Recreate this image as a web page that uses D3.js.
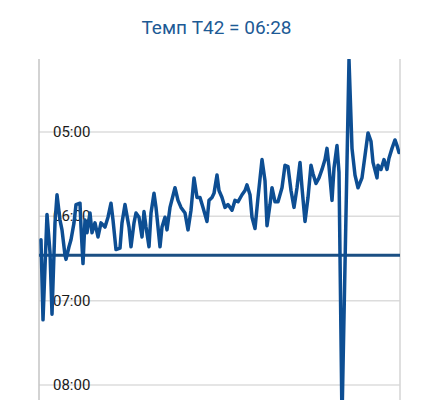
<!DOCTYPE html>
<html><head><meta charset="utf-8">
<script src="https://cdn.jsdelivr.net/npm/d3@7"></script>
<style>html,body{margin:0;padding:0;background:#fff;}svg{display:block;}</style>
</head><body><svg id="c" width="433" height="400"></svg>
<script>
const title = "Темп T42 = 06:28";
const targetPace = 388; // 06:28 in seconds
const tickValues = [300, 360, 420, 480];
const tickLabels = ["05:00", "06:00", "07:00", "08:00"];
const sample = [2,4,8,11,13,16,18,21,23,26,27,30,32,35,37,41,42,44,46,48,51,53,56,59,62,66,69,72,74,77,81,83,86,90,92,95,97,100,103,105,107,110,112,115,117,121,123,126,128,131,136,139,142,146,149,152,155,158,161,164,168,170,173,175,178,180,183,186,189,193,196,199,203,206,208,211,213,216,219,223,226,228,231,233,236,239,243,246,249,252,255,258,261,263,266,269,272,274,277,280,283,286,288,290,293,295,298,300,303,310,313,316,319,323,326,329,332,334,338,339,342,345,348,350,353,356,358,360];
const pace = [377,434,359,386,430,365,345,363,370,388,391,382,377,365,352,351,368,394,363,372,358,372,365,375,365,368,361,351,363,384,383,365,352,368,382,365,358,361,375,357,368,382,358,344,354,382,368,361,370,354,340,349,354,358,370,356,333,347,347,354,364,349,347,344,331,342,347,354,352,356,349,350,345,342,338,345,361,369,347,320,335,367,352,340,350,350,340,324,325,342,354,340,322,340,364,347,324,330,337,333,327,320,312,325,349,326,310,329,505,249,312,331,340,333,317,301,307,322,333,324,327,320,327,319,312,306,310,315];

const svg = d3.select("#c");
const xL = 39, xR = 400, yTop = 59;
const x = d3.scaleLinear().domain([0, 361]).range([xL, xR]);
const y = d3.scaleLinear().domain([300, 480]).range([131.5, 384.5]);

svg.append("text").attr("x", 216.5).attr("y", 34)
  .attr("text-anchor", "middle").attr("font-family", "Roboto, sans-serif")
  .attr("font-size", 19).attr("fill", "#1d5a95").text(title);

svg.append("defs").append("clipPath").attr("id", "clip")
  .append("rect").attr("x", xL).attr("y", yTop).attr("width", xR - xL).attr("height", 400 - yTop + 20);

// gridlines
const grid = svg.append("g").attr("transform", `translate(${xL},0)`)
  .call(d3.axisLeft(y).tickValues(tickValues).tickSize(-(xR - xL)).tickFormat(""));
grid.select(".domain").remove();
grid.selectAll(".tick line").attr("stroke", "#dcdcdc").attr("stroke-width", 1.5);

// vertical frame lines
svg.append("line").attr("x1", xL).attr("x2", xL).attr("y1", yTop).attr("y2", 400)
  .attr("stroke", "#c4c4c4").attr("stroke-width", 1.5);
svg.append("line").attr("x1", xR).attr("x2", xR).attr("y1", yTop).attr("y2", 400)
  .attr("stroke", "#d4d4d4").attr("stroke-width", 1.5);

// labels
svg.append("g").selectAll("text").data(tickValues).join("text")
  .attr("x", 53).attr("y", d => y(d)).attr("dy", "0.36em")
  .attr("font-family", "Roboto, sans-serif").attr("font-size", 15).attr("fill", "#1a1a1a")
  .text((d, i) => tickLabels[i]);

// target line
svg.append("line").attr("x1", xL).attr("x2", xR).attr("y1", y(targetPace)).attr("y2", y(targetPace))
  .attr("stroke", "#1b4f83").attr("stroke-width", 3);

const data = sample.map((s, i) => ({s, p: pace[i]}));
svg.append("path").datum(data).attr("clip-path", "url(#clip)")
  .attr("fill", "none").attr("stroke", "#0d4e93").attr("stroke-width", 3.5)
  .attr("stroke-linejoin", "round").attr("stroke-linecap", "round")
  .attr("d", d3.line().x(d => x(d.s)).y(d => y(d.p)));
</script></body></html>
